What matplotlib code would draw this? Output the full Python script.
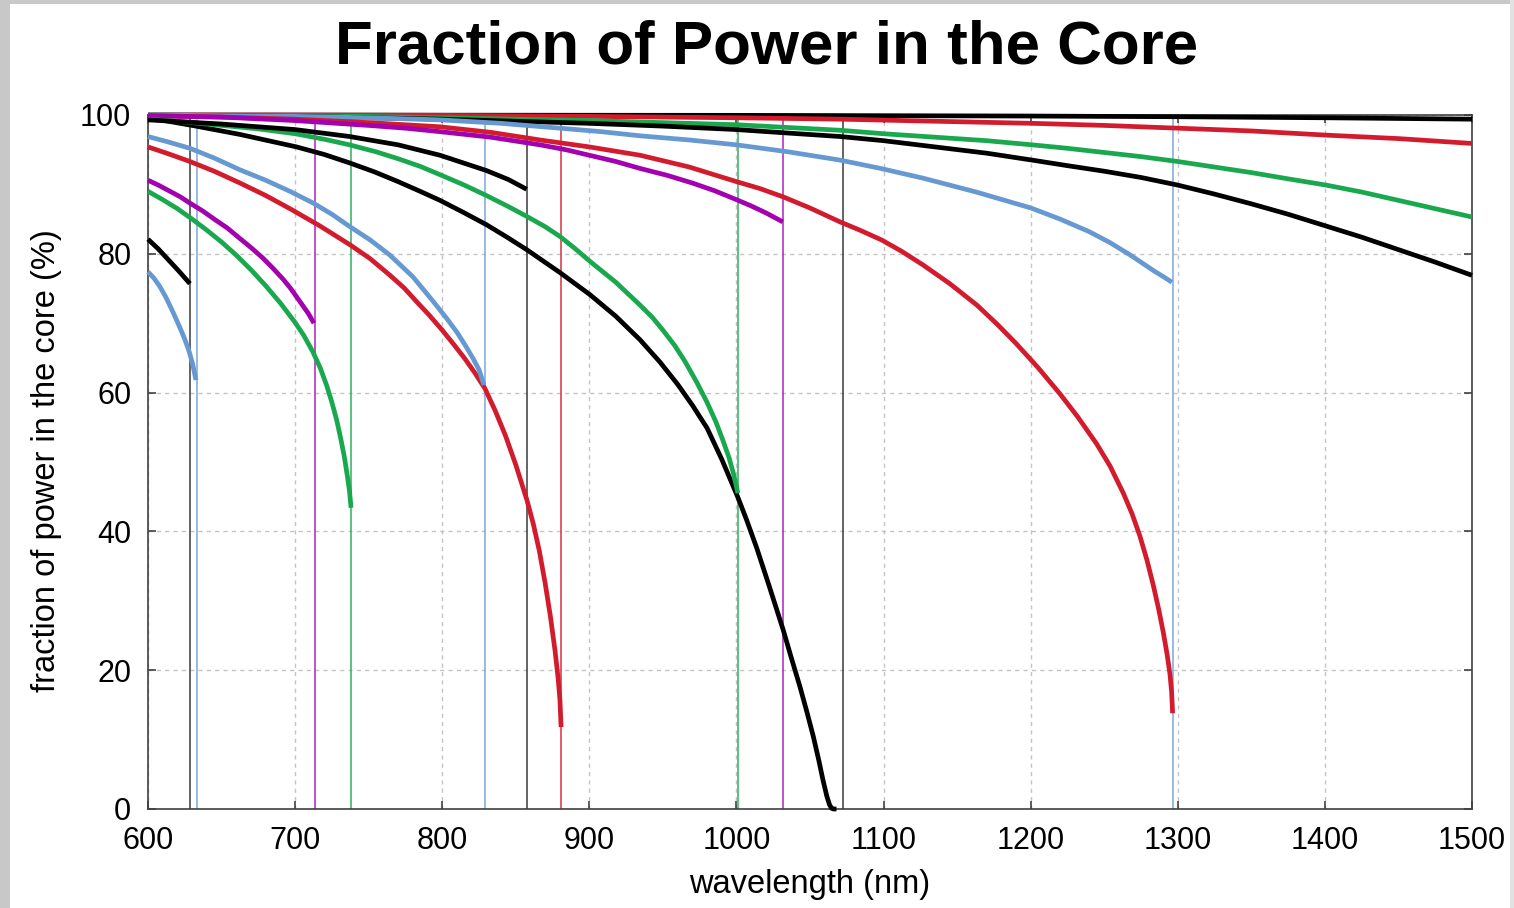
"""
Fraction of power in the fibre core against wavelength, one curve per mode,
with a thin vertical line at each mode's cutoff wavelength.
"""
import matplotlib.pyplot as plt
from matplotlib.patches import Rectangle

plt.rcParams["font.family"] = ["Liberation Sans", "DejaVu Sans"]

# mode curves: wavelength (nm) and power in core (%)
blue_1_wl = [600, 604, 608, 612, 617, 621, 625, 628, 630.5, 632.6]
blue_1_pct = [77.4, 76.5, 75.3, 73.8, 71.6, 69.7, 67.7, 65.9, 64.0, 61.8]

black_1_wl = [600, 607, 614, 621, 628.5]
black_1_pct = [82.1, 80.7, 79.1, 77.5, 75.7]

purple_1_wl = [600, 607, 615, 622, 628.5, 637, 645, 654, 662.5, 670, 678, 685,
               692, 697, 701, 705, 709, 712.8]
purple_1_pct = [90.6, 89.9, 89.0, 88.2, 87.3, 86.2, 85.0, 83.7, 82.2, 80.9, 79.4, 77.9,
                76.3, 75.0, 73.8, 72.6, 71.4, 70.0]

green_1_wl = [600, 610, 620, 630, 640, 650, 660, 670, 680, 690, 700, 706, 712,
              717, 721.5, 725, 728.3, 731, 733.5, 735.5, 737, 738]
green_1_pct = [89.0, 87.8, 86.5, 85.0, 83.4, 81.7, 79.8, 77.7, 75.4, 72.9, 70.1, 68.2, 65.9,
               63.6, 61.0, 58.6, 56.0, 53.4, 50.7, 48.0, 45.8, 43.4]

blue_2_wl = [600, 614, 628.5, 645, 662.5, 680, 696.5, 712.4, 725, 737.3, 751, 764.5,
             780, 794, 803, 810, 816, 821, 825, 828.4]
blue_2_pct = [96.9, 96.1, 95.2, 93.8, 92.1, 90.6, 89.0, 87.3, 85.7, 83.9, 82.0, 79.8,
              76.7, 73.1, 70.7, 68.7, 66.7, 64.9, 63.3, 61.1]

black_2_wl = [600, 650, 700, 737, 770, 798.5, 830, 845, 857.4]
black_2_pct = [99.3, 98.7, 97.9, 96.9, 95.7, 94.2, 92.0, 90.7, 89.3]

red_1_wl = [600, 614, 628.5, 645, 662.5, 680, 696.5, 717, 737.3, 751, 764.5, 774,
            782.6, 791, 800, 808, 815, 822, 829, 836, 843, 850, 857.6, 862, 866,
            870, 873.5, 876.7, 878.8, 880, 880.8]
red_1_pct = [95.4, 94.4, 93.3, 91.9, 90.2, 88.4, 86.5, 84.0, 81.3, 79.3, 76.9, 75.1,
             73.1, 71.2, 69.0, 66.9, 65.0, 62.9, 60.6, 57.4, 53.8, 49.6, 44.5, 41.0, 37.2,
             32.5, 27.8, 22.8, 18.8, 15.8, 11.8]

green_2_wl = [600, 625, 650, 675, 700, 720, 737, 755, 770, 785, 798.5, 815, 830,
              845, 857.4, 870, 880, 890, 900.5, 918, 934.5, 943, 950, 958, 965,
              973, 980, 986, 991, 995, 998, 1001]
green_2_pct = [99.4, 99.0, 98.5, 98.0, 97.3, 96.5, 95.7, 94.7, 93.7, 92.6, 91.4, 89.9, 88.4,
               86.8, 85.4, 83.9, 82.5, 80.8, 78.9, 75.9, 72.6, 70.8, 69.0, 66.8, 64.5,
               61.5, 58.6, 55.8, 53.0, 50.6, 48.3, 45.5]

purple_2_wl = [600, 650, 700, 750, 775, 798.5, 833, 866.5, 884, 900, 918, 934.5,
               953, 970, 985, 1000, 1010, 1020, 1031.5]
purple_2_pct = [99.9, 99.7, 99.2, 98.5, 98.1, 97.6, 96.8, 95.7, 95.0, 94.2, 93.3, 92.3,
                91.3, 90.2, 89.1, 87.8, 86.9, 85.9, 84.6]

black_3_wl = [600, 630, 662.5, 701, 720, 737, 754, 770, 785, 798.5, 815, 830, 844,
              857.4, 880, 900.5, 918, 934.5, 948, 960, 970, 980, 990, 1001, 1007,
              1013.8, 1022, 1031.8, 1037, 1043.2, 1048, 1052.2, 1056, 1059, 1061.5,
              1063.3, 1064.7, 1066, 1068]
black_3_pct = [99.6, 98.5, 97.2, 95.4, 94.3, 93.1, 91.8, 90.4, 89.0, 87.7, 85.9, 84.2, 82.4,
               80.6, 77.3, 74.1, 71.0, 67.6, 64.4, 61.2, 58.2, 54.9, 50.4, 44.9, 41.6,
               37.6, 32.3, 25.8, 22.0, 17.6, 13.9, 10.5, 7.0, 4.0, 1.8,
               0.6, 0.1, 0.0, 0.0]

red_2_wl = [600, 650, 700, 750, 798.5, 833, 866.5, 900, 934.5, 968, 1000, 1016,
            1031.8, 1050, 1070.4, 1084, 1098.6, 1112, 1126.8, 1145, 1163.5, 1177,
            1190, 1205, 1220, 1232, 1244.9, 1254, 1263, 1269, 1274.3, 1279, 1283.4,
            1287, 1290.2, 1292.8, 1294.7, 1295.8, 1296.5]
red_2_pct = [99.9, 99.7, 99.4, 98.9, 98.3, 97.5, 96.4, 95.4, 94.2, 92.5, 90.4, 89.4,
             88.2, 86.6, 84.6, 83.4, 82.0, 80.4, 78.4, 75.7, 72.6, 69.9,
             67.1, 63.6, 59.8, 56.5, 52.6, 49.4, 45.5, 42.5, 39.3, 35.9, 32.2,
             28.8, 25.4, 22.2, 19.4, 16.9, 13.8]

blue_3_wl = [600, 650, 700, 750, 798.5, 840, 880, 908, 934.5, 968, 1000, 1035,
             1070.4, 1098, 1126.8, 1163, 1200.2, 1220, 1239.7, 1254, 1267.9, 1277,
             1284.8, 1291, 1296]
blue_3_pct = [100.0, 99.9, 99.8, 99.6, 99.3, 98.8, 98.1, 97.6, 97.0, 96.4, 95.7, 94.7,
              93.5, 92.3, 90.9, 88.9, 86.6, 85.0, 83.2, 81.6, 79.8, 78.5,
              77.4, 76.6, 75.9]

black_4_wl = [600, 650, 700, 750, 800, 850, 900, 950, 1000, 1035, 1070.4, 1100,
              1135, 1170, 1201, 1225, 1250, 1275, 1300, 1325, 1350, 1375, 1400.8,
              1425, 1450, 1475, 1500]
black_4_pct = [99.95, 99.9, 99.8, 99.6, 99.4, 99.1, 98.8, 98.4, 97.9, 97.4, 96.9, 96.3,
               95.4, 94.5, 93.5, 92.7, 91.9, 91.0, 89.9, 88.6, 87.2, 85.7, 84.0,
               82.4, 80.6, 78.8, 76.9]

green_3_wl = [600, 650, 700, 750, 800, 850, 900, 950, 1000, 1035, 1070.4, 1100,
              1135, 1170, 1201, 1225, 1250, 1275, 1300, 1325, 1350, 1375, 1400.8,
              1425, 1450, 1475, 1500]
green_3_pct = [100.0, 99.95, 99.9, 99.8, 99.6, 99.4, 99.2, 98.9, 98.6, 98.2, 97.8, 97.3,
               96.8, 96.3, 95.7, 95.2, 94.6, 94.0, 93.3, 92.5, 91.7, 90.8, 89.9,
               88.9, 87.7, 86.5, 85.3]

red_3_wl = [600, 700, 800, 900, 1000, 1070.4, 1135, 1201, 1250, 1300, 1350,
            1400.8, 1450, 1500]
red_3_pct = [100.0, 100.0, 99.95, 99.8, 99.6, 99.4, 99.1, 98.8, 98.5, 98.1, 97.7,
             97.1, 96.6, 95.9]

black_5_wl = [600, 1000, 1200, 1300, 1400, 1500]
black_5_pct = [100.0, 99.95, 99.85, 99.75, 99.6, 99.4]

# cutoff wavelength of each mode (nm)
cutoff_wl = [628.8, 633.1, 713.5, 738.0, 829.0, 857.6, 880.8, 1001.0, 1031.7, 1072.5, 1296.6]
cutoff_kind = ["black", "blue", "purple", "green", "blue", "black", "red",
               "green", "purple", "black", "blue"]

x_ticks = [600, 700, 800, 900, 1000, 1100, 1200, 1300, 1400, 1500]
y_ticks = [0, 20, 40, 60, 80, 100]

colors = {
    "black": "#000000",
    "blue": "#6699d1",
    "purple": "#a300b0",
    "green": "#1aa84e",
    "red": "#d21c2e",
}
cutoff_colors = {
    "black": "#3a3a3a",
    "blue": "#7aa8dc",
    "purple": "#b020c0",
    "green": "#2eb05e",
    "red": "#d8303e",
}

curves = [
    ("black", black_5_wl, black_5_pct),
    ("red", red_3_wl, red_3_pct),
    ("green", green_3_wl, green_3_pct),
    ("black", black_4_wl, black_4_pct),
    ("blue", blue_3_wl, blue_3_pct),
    ("red", red_2_wl, red_2_pct),
    ("black", black_3_wl, black_3_pct),
    ("purple", purple_2_wl, purple_2_pct),
    ("green", green_2_wl, green_2_pct),
    ("red", red_1_wl, red_1_pct),
    ("black", black_2_wl, black_2_pct),
    ("blue", blue_2_wl, blue_2_pct),
    ("green", green_1_wl, green_1_pct),
    ("purple", purple_1_wl, purple_1_pct),
    ("black", black_1_wl, black_1_pct),
    ("blue", blue_1_wl, blue_1_pct),
]

fig = plt.figure(figsize=(15.14, 9.08), dpi=100)
fig.patch.set_facecolor("white")

# screenshot frame round the picture
fig.patches.append(Rectangle((0, 0), 10 / 1514, 1, transform=fig.transFigure,
                             facecolor="#c8c8c8", edgecolor="none", zorder=-5))
fig.patches.append(Rectangle((0, 1 - 4 / 908), 1, 4 / 908, transform=fig.transFigure,
                             facecolor="#c8c8c8", edgecolor="none", zorder=-5))
fig.patches.append(Rectangle((1 - 4 / 1514, 0), 4 / 1514, 1, transform=fig.transFigure,
                             facecolor="#e2e2e2", edgecolor="none", zorder=-5))

ax = fig.add_axes([148 / 1514, 99 / 908, 1324 / 1514, 694 / 908])

for wl, kind in zip(cutoff_wl, cutoff_kind):
    ax.axvline(wl, color=cutoff_colors[kind], lw=1.1, zorder=2)

for kind, wl, pct in curves:
    ax.plot(wl, pct, color=colors[kind], lw=3.4, zorder=3, clip_on=False,
            solid_capstyle="butt", solid_joinstyle="round")

ax.set_xlim(600, 1500)
ax.set_ylim(0, 100)
ax.set_xticks(x_ticks)
ax.set_yticks(y_ticks)
ax.grid(True, color="#c4c4c4", lw=1.0, linestyle=(0, (3, 3)), zorder=0)
ax.set_axisbelow(True)
ax.tick_params(direction="in", length=6, width=1.1, top=True, right=True,
               labelsize=22, color="#333333")
ax.tick_params(axis="x", pad=12)
ax.tick_params(axis="y", pad=12)
for spine in ax.spines.values():
    spine.set_color("#404040")
    spine.set_linewidth(1.2)

fig.text(767 / 1514, 1 - 48 / 908, "Fraction of Power in the Core",
         ha="center", va="center", fontsize=44.6, fontweight="bold")
fig.text(810 / 1514, 1 - 885 / 908, "wavelength (nm)",
         ha="center", va="center", fontsize=23.5)
fig.text(47 / 1514, 1 - 461 / 908, "fraction of power in the core (%)",
         ha="center", va="center", fontsize=23.5, rotation=90)

fig.savefig("out.png", dpi=100)
